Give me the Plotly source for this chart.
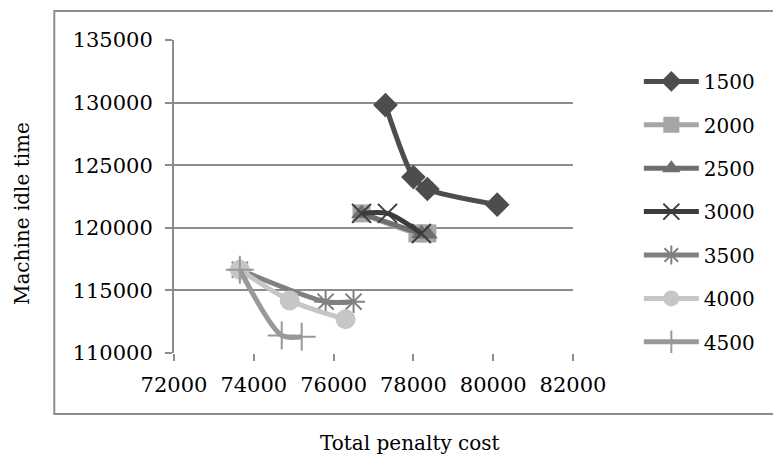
import plotly.graph_objects as go

# Pareto fronts for each batch setting: (total penalty cost, machine idle time)
series_names = ["1500", "2000", "2500", "3000", "3500", "4000", "4500"]

cost_1500 = [77300, 78000, 78350, 80100]
idle_1500 = [129800, 124050, 123100, 121850]

cost_2000 = [76700, 78100, 78350]
idle_2000 = [121150, 119550, 119550]

cost_2500 = [76700, 78200, 78350]
idle_2500 = [121150, 119550, 119500]

cost_3000 = [76700, 77350, 78200]
idle_3000 = [121150, 121150, 119550]

cost_3500 = [73650, 75800, 76500]
idle_3500 = [116650, 114100, 114100]

cost_4000 = [73650, 74900, 76300]
idle_4000 = [116650, 114200, 112700]

cost_4500 = [73650, 74700, 75200]
idle_4500 = [116650, 111400, 111300]

x_ticks = [72000, 74000, 76000, 78000, 80000, 82000]
y_ticks = [110000, 115000, 120000, 125000, 130000, 135000]

costs = [cost_1500, cost_2000, cost_2500, cost_3000, cost_3500, cost_4000, cost_4500]
idles = [idle_1500, idle_2000, idle_2500, idle_3000, idle_3500, idle_4000, idle_4500]

colors = ["#4d4d4d", "#a6a6a6", "#6e6e6e", "#3c3c3c", "#808080", "#c6c6c6", "#999999"]
symbols = ["diamond", "square", "triangle-up", "x-thin-open", "asterisk-open",
           "circle", "cross-thin-open"]
sizes = [19, 18, 18, 19, 19, 20, 20]

FONT = "DejaVu Serif"

fig = go.Figure()
for name, xs, ys, col, sym, sz in zip(series_names, costs, idles, colors, symbols, sizes):
    open_sym = sym.endswith("open")
    fig.add_trace(go.Scatter(
        x=xs, y=ys, name=name, legendgroup=name,
        mode="lines+markers",
        line=dict(color=col, width=5, shape="spline", smoothing=0.8),
        marker=dict(symbol=sym, size=sz, color=col,
                    line=dict(color=col, width=2 if open_sym else 0)),
    ))

fig.update_layout(
    width=773, height=455,
    margin=dict(l=174, r=200, t=40, b=102),
    paper_bgcolor="white", plot_bgcolor="white",
    font=dict(family=FONT, size=20, color="black"),
    showlegend=True,
    legend=dict(
        x=1.165, y=0.93, xanchor="left", yanchor="top",
        font=dict(family=FONT, size=20, color="black"),
        itemwidth=55, tracegroupgap=14.4, maxheight=455,
        bgcolor="rgba(0,0,0,0)",
    ),
    xaxis=dict(
        range=[72000, 82000], tickvals=x_ticks,
        ticktext=[str(v) for v in x_ticks],
        showgrid=False, zeroline=False,
        showline=False,
        ticks="outside", ticklen=7, tickcolor="#8c8c8c", tickwidth=2,
        ticklabelstandoff=6,
        tickfont=dict(family=FONT, size=21, color="black"),
    ),
    yaxis=dict(
        range=[110000, 135000], tickvals=y_ticks,
        ticktext=[str(v) for v in y_ticks],
        showgrid=True, gridcolor="#8c8c8c", gridwidth=2,
        zeroline=False,
        showline=True, linecolor="#8c8c8c", linewidth=2,
        ticks="outside", ticklen=7, tickcolor="#8c8c8c", tickwidth=2,
        ticklabelstandoff=8,
        tickfont=dict(family=FONT, size=21, color="black"),
    ),
    annotations=[
        dict(text="Machine idle time", xref="paper", yref="paper",
             x=-0.381, y=0.447, textangle=-90, showarrow=False,
             font=dict(family=FONT, size=20, color="black"),
             xanchor="center", yanchor="middle"),
        dict(text="Total penalty cost", xref="paper", yref="paper",
             x=0.591, y=-0.2875, showarrow=False,
             font=dict(family=FONT, size=20, color="black"),
             xanchor="center", yanchor="middle"),
    ],
    shapes=[
        dict(type="rect", xref="paper", yref="paper",
             x0=-0.3, x1=1.51, y0=-0.195, y1=1.0927,
             line=dict(color="#8c8c8c", width=2), layer="below"),
    ],
)

fig.write_html("out.html")
